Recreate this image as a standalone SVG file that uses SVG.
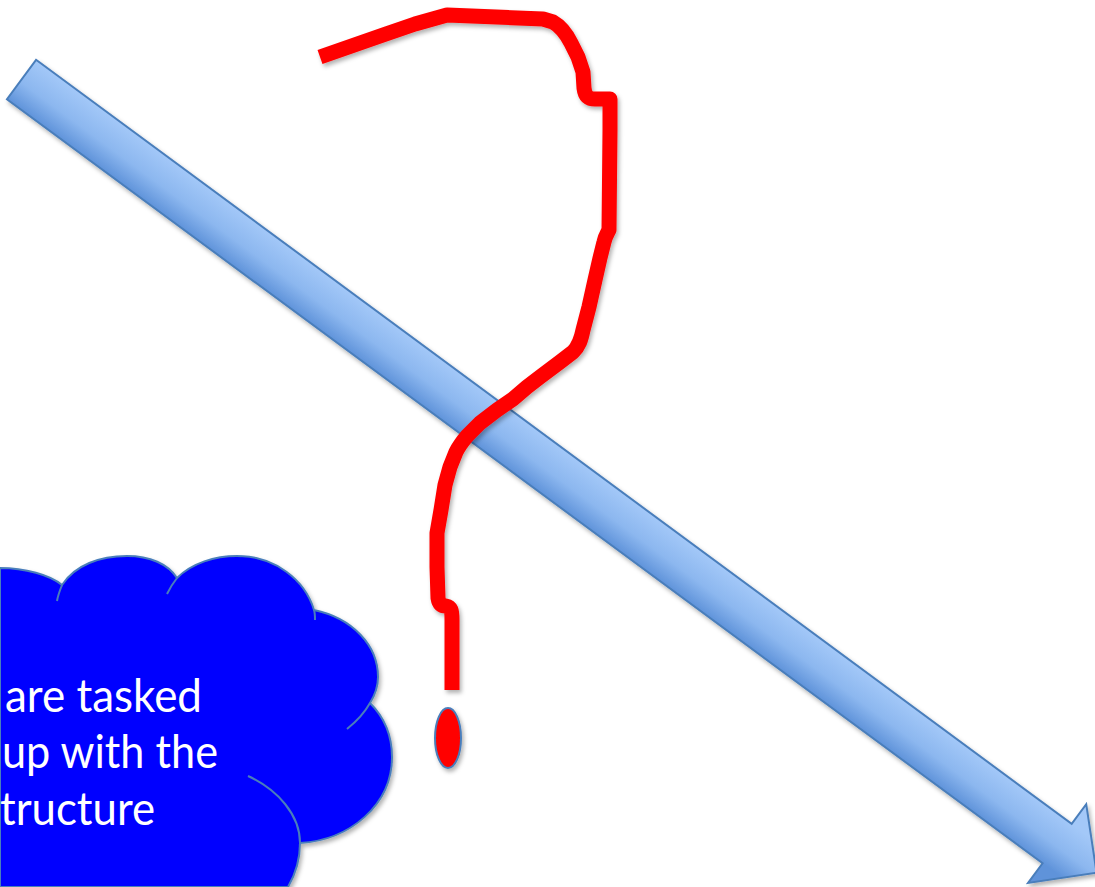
<svg xmlns="http://www.w3.org/2000/svg" width="1095" height="887" viewBox="0 0 1095 887">
  <defs>
    <linearGradient id="arrowGrad" gradientUnits="userSpaceOnUse" x1="0" y1="-24.5" x2="0" y2="24.5">
      <stop offset="0" stop-color="#a3c8f8"/>
      <stop offset="0.55" stop-color="#8cb7ef"/>
      <stop offset="1" stop-color="#5f93da"/>
    </linearGradient>
    <filter id="shadow" x="-10%" y="-10%" width="120%" height="120%">
      <feDropShadow dx="2" dy="3" stdDeviation="2" flood-color="#000" flood-opacity="0.3"/>
    </filter>
    <style>
      .outline { stroke: #4a7ebb; stroke-width: 2; }
      .tail { fill: none; stroke: #4a7ebb; stroke-width: 2; }
      .ink { fill: none; stroke: #ff0000; stroke-width: 15; stroke-linejoin: round; stroke-linecap: butt; }
      .cloudText { font-family: Lato, "Liberation Sans", sans-serif; font-size: 47px; fill: #ffffff; }
    </style>
  </defs>

  <rect width="1095" height="887" fill="#ffffff"/>

  <g id="cloud">
    <path class="outline" fill="#0000ff" filter="url(#shadow)"
      d="M0,568 C25,568 50,575 62,585 C75,565 100,556 127,556 C150,556 168,564 177,578 C192,563 215,556 237,556 C275,556 305,580 314,610 C352,618 378,645 378,677 C378,687 375,695 370,703 C385,718 392,737 392,757 C392,805 350,840 300,843 C300,860 295,875 288,887 L0,887 Z"/>
    <path class="tail" d="M57,601 C58,595 60,590 62,585"/>
    <path class="tail" d="M167,594 C170,588 173,583 177,578"/>
    <path class="tail" d="M314,610 C315,613 315,617 315,620"/>
    <path class="tail" d="M370,703 C365,712 357,721 347,729"/>
    <path class="tail" d="M248,776 C278,790 300,815 300,843"/>
    <text class="cloudText" x="5" y="712" textLength="197" lengthAdjust="spacingAndGlyphs">are tasked</text>
    <text class="cloudText" x="2" y="768" textLength="216" lengthAdjust="spacingAndGlyphs">up with the</text>
    <text class="cloudText" x="0" y="825" textLength="155" lengthAdjust="spacingAndGlyphs">tructure</text>
  </g>

  <g id="arrow" filter="url(#shadow)">
    <polygon transform="translate(21.5,79.5) rotate(36.42)" fill="url(#arrowGrad)" class="outline" stroke-linejoin="miter"
      points="0,-24.5 1287,-24.5 1287,-49 1336,0 1287,49 1287,24.5 0,24.5"/>
  </g>

  <g id="question-mark" filter="url(#shadow)">
    <path class="ink" d="M320,57 L383,35 L415,24 L447,15 L543,19 L553,22 C560,26 566,33 571,43 L578,57 L583,72 L584,88 C585,96 588,99 595,99 L610,99 L610,130 L609,230 C607,234 605,237 604,242 L600,258 L595,280 L589,307 L583,330 C581,340 579,346 573,352 L560,362 L540,377 L527,387 L513,399 L497,410 L480,423 L467,436 C462,442 459,446 456,452 L450,467 L445,485 L441,510 L437,533 L437,567 L438,598 C439,604 441,606 446,606 C451,607 452,610 452,620 L452,690"/>
    <ellipse cx="448" cy="738" rx="13" ry="30" fill="#ff0000" class="outline"/>
  </g>

  <g id="connectors"/>
</svg>
